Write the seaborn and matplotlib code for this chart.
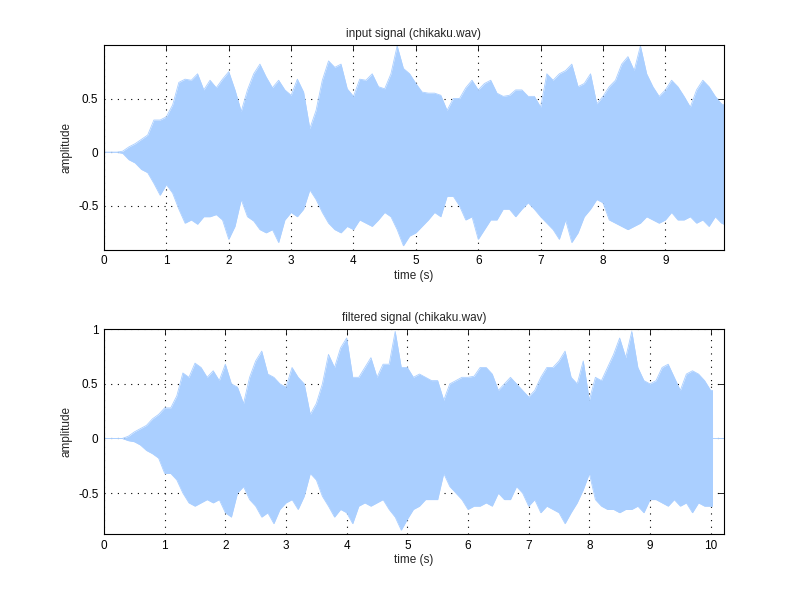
import numpy as np
import pandas as pd
import seaborn as sns
import matplotlib
matplotlib.use('Agg')
import matplotlib.pyplot as plt

# envelope of the waveforms, read every 0.1 s (upper / lower peaks)
t_in = [round(0.1 * i, 1) for i in range(100)] + [9.94]
in_upper = [0, 0, 0, 0.01, 0.05, 0.08, 0.12, 0.16, 0.30, 0.30,
            0.33, 0.44, 0.65, 0.68, 0.67, 0.73, 0.58, 0.67, 0.60, 0.68,
            0.75, 0.58, 0.38, 0.58, 0.73, 0.82, 0.70, 0.60, 0.67, 0.58,
            0.53, 0.68, 0.56, 0.22, 0.39, 0.67, 0.85, 0.79, 0.82, 0.59,
            0.52, 0.68, 0.67, 0.73, 0.61, 0.59, 0.73, 0.99, 0.78, 0.73,
            0.64, 0.56, 0.55, 0.55, 0.53, 0.39, 0.50, 0.50, 0.60, 0.67,
            0.58, 0.64, 0.67, 0.55, 0.52, 0.53, 0.58, 0.58, 0.52, 0.52,
            0.42, 0.73, 0.67, 0.73, 0.76, 0.82, 0.61, 0.64, 0.73, 0.45,
            0.52, 0.61, 0.67, 0.82, 0.89, 0.76, 0.99, 0.73, 0.61, 0.52,
            0.58, 0.67, 0.61, 0.52, 0.42, 0.58, 0.67, 0.61, 0.52, 0.45,
            0.44]
in_lower = [0, 0, 0, -0.01, -0.07, -0.10, -0.16, -0.19, -0.29, -0.40,
            -0.30, -0.38, -0.53, -0.66, -0.63, -0.67, -0.60, -0.60, -0.58, -0.63,
            -0.81, -0.69, -0.44, -0.60, -0.64, -0.72, -0.75, -0.72, -0.84, -0.63,
            -0.56, -0.60, -0.53, -0.35, -0.44, -0.56, -0.66, -0.72, -0.75, -0.69,
            -0.72, -0.63, -0.66, -0.69, -0.63, -0.56, -0.60, -0.72, -0.87, -0.78,
            -0.75, -0.69, -0.63, -0.56, -0.60, -0.41, -0.41, -0.50, -0.63, -0.60,
            -0.81, -0.72, -0.63, -0.63, -0.53, -0.53, -0.60, -0.53, -0.47, -0.53,
            -0.60, -0.66, -0.72, -0.81, -0.63, -0.84, -0.75, -0.60, -0.53, -0.44,
            -0.47, -0.63, -0.66, -0.69, -0.72, -0.69, -0.66, -0.60, -0.63, -0.66,
            -0.63, -0.56, -0.63, -0.63, -0.60, -0.66, -0.63, -0.69, -0.60, -0.66,
            -0.67]

t_out = [round(0.1 * i, 1) for i in range(101)] + [10.03, 10.031, 10.22]
out_upper = [0, 0, 0, 0, 0.02, 0.06, 0.09, 0.12, 0.18, 0.22,
             0.28, 0.28, 0.39, 0.60, 0.56, 0.69, 0.65, 0.56, 0.62, 0.53,
             0.68, 0.50, 0.47, 0.32, 0.56, 0.71, 0.80, 0.59, 0.56, 0.50,
             0.47, 0.65, 0.56, 0.50, 0.22, 0.32, 0.50, 0.77, 0.65, 0.83,
             0.92, 0.56, 0.56, 0.65, 0.74, 0.56, 0.68, 0.68, 0.98, 0.65,
             0.65, 0.56, 0.59, 0.56, 0.53, 0.53, 0.35, 0.50, 0.53, 0.56,
             0.56, 0.57, 0.65, 0.65, 0.59, 0.44, 0.50, 0.56, 0.50, 0.44,
             0.38, 0.44, 0.56, 0.65, 0.65, 0.71, 0.80, 0.56, 0.50, 0.71,
             0.35, 0.56, 0.53, 0.65, 0.77, 0.92, 0.74, 0.98, 0.65, 0.53,
             0.50, 0.53, 0.65, 0.68, 0.56, 0.44, 0.59, 0.62, 0.59, 0.53,
             0.44, 0.44, 0, 0]
out_lower = [0, 0, 0, 0, -0.02, -0.03, -0.06, -0.11, -0.14, -0.18,
             -0.32, -0.32, -0.38, -0.50, -0.59, -0.62, -0.59, -0.56, -0.59, -0.56,
             -0.68, -0.72, -0.50, -0.44, -0.56, -0.62, -0.72, -0.68, -0.78, -0.65,
             -0.59, -0.56, -0.65, -0.53, -0.32, -0.38, -0.53, -0.62, -0.72, -0.65,
             -0.68, -0.78, -0.62, -0.59, -0.62, -0.59, -0.56, -0.65, -0.72, -0.84,
             -0.74, -0.65, -0.62, -0.56, -0.56, -0.56, -0.32, -0.44, -0.50, -0.56,
             -0.65, -0.62, -0.62, -0.59, -0.62, -0.50, -0.56, -0.56, -0.44, -0.50,
             -0.62, -0.56, -0.68, -0.62, -0.65, -0.68, -0.78, -0.68, -0.59, -0.47,
             -0.32, -0.56, -0.62, -0.65, -0.65, -0.68, -0.65, -0.65, -0.62, -0.68,
             -0.56, -0.56, -0.59, -0.62, -0.56, -0.62, -0.59, -0.68, -0.59, -0.62,
             -0.62, -0.62, 0, 0]

sns.set_style('white')
plt.rcParams['font.family'] = ['Liberation Sans', 'DejaVu Sans']
plt.rcParams['font.size'] = 8.5

wave_color = '#aacfff'

fig = plt.figure(figsize=(8, 6), dpi=100)
ax1 = fig.add_axes([0.13, 0.5838, 0.775, 0.3412])
ax2 = fig.add_axes([0.13, 0.11, 0.775, 0.3412])

panels = [
    (ax1, t_in, in_upper, in_lower, 'input signal (chikaku.wav)',
     (0, 9.94), (-0.907, 0.998), range(0, 10), [-0.5, 0, 0.5]),
    (ax2, t_out, out_upper, out_lower, 'filtered signal (chikaku.wav)',
     (0, 10.22), (-0.875, 1.0), range(0, 11), [-0.5, 0, 0.5, 1]),
]

for ax, t, up, lo, title, xlim, ylim, xt, yt in panels:
    df = pd.DataFrame({'time': t, 'upper': up, 'lower': lo})
    ax.fill_between(df['time'], df['lower'], df['upper'], color=wave_color, linewidth=0)
    sns.lineplot(data=df, x='time', y='upper', ax=ax, color=wave_color, linewidth=0.6)
    sns.lineplot(data=df, x='time', y='lower', ax=ax, color=wave_color, linewidth=0.6)
    ax.set_xlim(*xlim)
    ax.set_ylim(*ylim)
    ax.set_xticks(list(xt))
    ax.set_yticks(yt)
    ax.set_yticklabels(['%g' % v for v in yt])
    ax.set_title(title, fontsize=8.5, pad=6)
    ax.set_xlabel('time (s)', fontsize=8.5, labelpad=2)
    ax.set_ylabel('amplitude', fontsize=8.5, labelpad=4)
    ax.set_axisbelow(True)
    ax.grid(True, color='black', linestyle=(0, (1, 5)), linewidth=0.8)
    ax.tick_params(direction='in', length=4, width=0.6, top=True, right=True,
                   labelsize=8.5, colors='black', pad=4)
    for s in ax.spines.values():
        s.set_visible(True)
        s.set_color('black')
        s.set_linewidth(0.8)

fig.savefig('out.png', dpi=100, facecolor='white')
